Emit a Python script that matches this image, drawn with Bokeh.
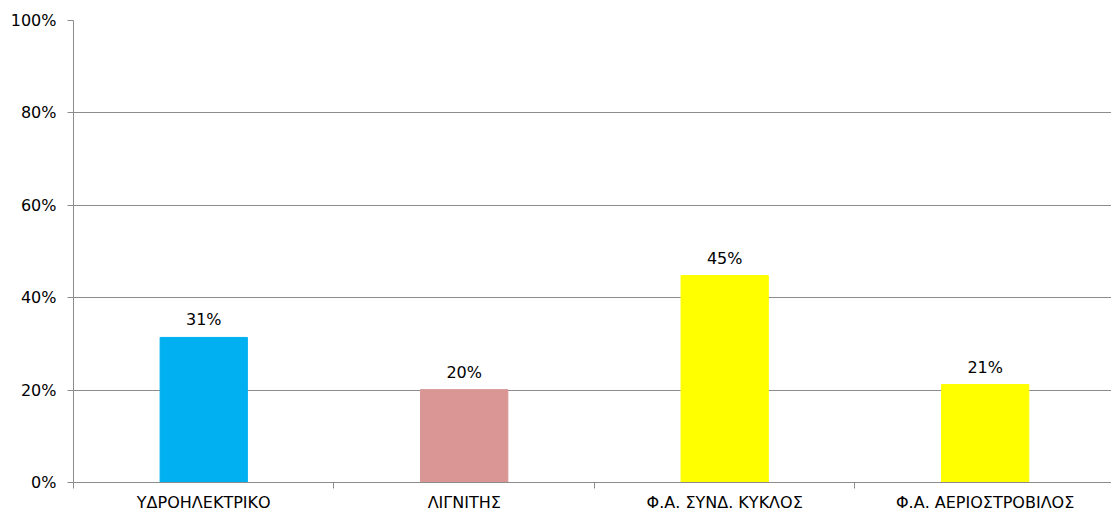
import numpy as np
from bokeh.plotting import figure
from bokeh.models import ColumnDataSource, FixedTicker, Range1d, LabelSet
from bokeh.core.properties import value
from bokeh.embed import file_html
from bokeh.resources import INLINE

categories = ["ΥΔΡΟΗΛΕΚΤΡΙΚΟ", "ΛΙΓΝΙΤΗΣ", "Φ.Α. ΣΥΝΔ. ΚΥΚΛΟΣ", "Φ.Α. ΑΕΡΙΟΣΤΡΟΒΙΛΟΣ"]
shares = [0.314, 0.201, 0.448, 0.212]
colors = ["#00B0F0", "#D99694", "#FFFF00", "#FFFF00"]
y_ticks = [0, 0.2, 0.4, 0.6, 0.8, 1.0]

n = len(categories)
xs = np.arange(n) + 0.5
src = ColumnDataSource(dict(
    x=xs, top=shares, color=colors,
    label=[f"{round(v * 100)}%" for v in shares],
))

FONT = "DejaVu Sans"
GRAY = "#8c8c8c"

# the last category runs slightly past the right edge of the window
p = figure(width=1111, height=516, output_backend="svg", toolbar_location=None,
           x_range=Range1d(0, n - 0.015), y_range=Range1d(0, 1),
           min_border_left=73, min_border_right=0, min_border_top=20, min_border_bottom=34)
p.outline_line_color = None
p.background_fill_color = "white"
p.border_fill_color = "white"

p.vbar(x="x", top="top", bottom=0, width=0.335, color="color", source=src)

labels = LabelSet(x="x", y="top", text="label", source=src, text_align="center",
                  text_baseline="bottom", y_offset=8, text_font=value(FONT),
                  text_font_size="16px", text_color="#000000")
p.add_layout(labels)

# x axis
p.xaxis.ticker = FixedTicker(ticks=list(xs), minor_ticks=list(range(n + 1)))
p.xaxis.major_label_overrides = {float(x): c for x, c in zip(xs, categories)}
p.xaxis.major_tick_line_color = None
p.xaxis.minor_tick_in = 0
p.xaxis.minor_tick_out = 6
p.xaxis.minor_tick_line_color = GRAY
p.xaxis.axis_line_color = GRAY
p.xaxis.major_label_text_font = FONT
p.xaxis.major_label_text_font_size = "16px"
p.xaxis.major_label_text_color = "#000000"
p.xaxis.major_label_standoff = 4
p.xgrid.grid_line_color = None

# y axis
p.yaxis.ticker = FixedTicker(ticks=y_ticks)
p.yaxis.major_label_overrides = {float(t): f"{round(t * 100)}%" for t in y_ticks}
p.yaxis.major_tick_in = 0
p.yaxis.major_tick_out = 6
p.yaxis.major_tick_line_color = GRAY
p.yaxis.minor_tick_line_color = None
p.yaxis.axis_line_color = GRAY
p.yaxis.major_label_text_font = FONT
p.yaxis.major_label_text_font_size = "16px"
p.yaxis.major_label_text_color = "#000000"
p.yaxis.major_label_standoff = 11
p.ygrid.grid_line_color = GRAY
p.ygrid.grid_line_width = 1

open("out.html", "w").write(file_html(p, INLINE))
